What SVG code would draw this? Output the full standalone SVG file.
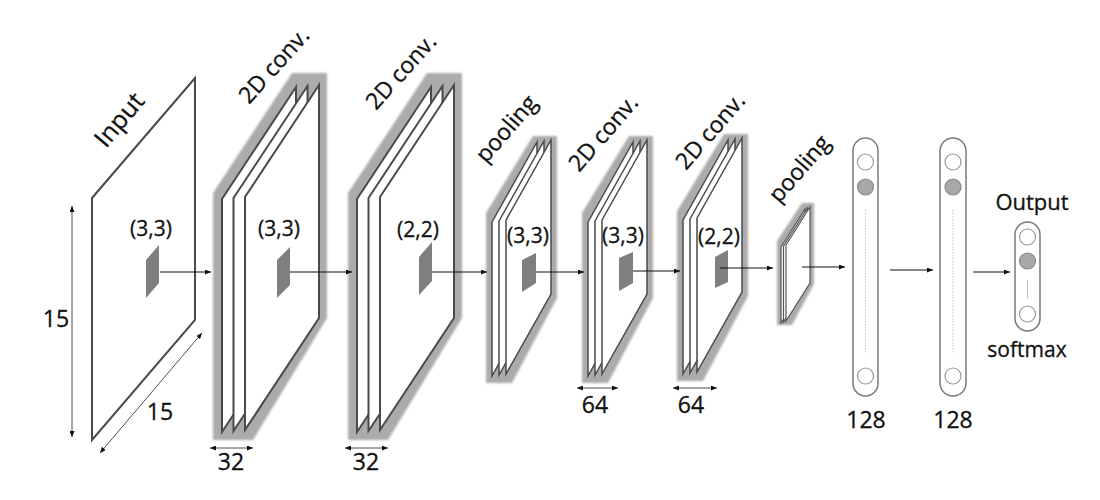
<svg xmlns="http://www.w3.org/2000/svg" width="1100" height="500" viewBox="0 0 1100 500">
<defs>
<marker id="ah" markerWidth="6" markerHeight="5" refX="6" refY="2.5" orient="auto" markerUnits="userSpaceOnUse"><path d="M0,0 L6,2.5 L0,5 Z" fill="#111"/></marker>
<marker id="ahs" markerWidth="6" markerHeight="5" refX="0" refY="2.5" orient="auto" markerUnits="userSpaceOnUse"><path d="M6,0 L0,2.5 L6,5 Z" fill="#111"/></marker>
<filter id="blur" x="-10%" y="-10%" width="120%" height="120%"><feGaussianBlur stdDeviation="1.3"/></filter>
</defs>
<style>
.t{font-family:"Open Sans","Noto Sans",sans-serif;fill:#111;stroke:#111;stroke-width:0.3}
.lab{font-size:23px}
.k{font-size:21px;text-anchor:middle}
.num{font-size:23px;text-anchor:middle}
.fr{fill:#fff;stroke:#4a4a4a;stroke-width:2;stroke-linejoin:miter}
.frs{fill:#fff;stroke:#4a4a4a;stroke-width:1.5}
.frt{fill:#fff;stroke:#555;stroke-width:1.2}
.sh{fill:#ababab;filter:url(#blur)}
.pt{fill:#7f7f7f}
.ar{stroke:#111;stroke-width:1;fill:none;marker-end:url(#ah)}
.dim{stroke:#222;stroke-width:0.8;fill:none;marker-end:url(#ah);marker-start:url(#ahs)}
.fc{fill:#fff;stroke:#7a7a7a;stroke-width:1.5}
.cw{fill:#fff;stroke:#9a9a9a;stroke-width:1.2}
.cg{fill:#a8a8a8;stroke:#8a8a8a;stroke-width:1.2}
.dl{stroke:#c4c4c4;stroke-width:1;stroke-dasharray:1.5 1.5}
</style>

<g id="input">
<polygon class="fr" points="92,198 195,78 195,320 92,440"/>
<polygon class="pt" points="146,260 159,245 159,283 146,298"/>
<text class="t k" x="151" y="236">(3,3)</text>
<text class="t" font-size="25" x="106" y="149" transform="rotate(-50 106 149)">Input</text>
</g>

<g id="conv1">
<polygon class="sh" points="213,193 292,73 327,73 327,318 253,440 213,440"/>
<polygon class="fr" points="222,199 296,87 296,320 222,432"/>
<polygon class="fr" points="233.5,198 307.5,86 307.5,319 233.5,431"/>
<polygon class="fr" points="245,197 319,85 319,318 245,430"/>
<polygon class="pt" points="277,260 290,247 290,285 277,298"/>
<text class="t k" x="279" y="236">(3,3)</text>
<text class="t lab" x="249" y="105" transform="rotate(-48 249 105)">2D conv.</text>
</g>

<g id="conv2">
<g transform="translate(135,0)">
<polygon class="sh" points="213,193 292,73 327,73 327,318 253,440 213,440"/>
<polygon class="fr" points="222,199 296,87 296,320 222,432"/>
<polygon class="fr" points="233.5,198 307.5,86 307.5,319 233.5,431"/>
<polygon class="fr" points="245,197 319,85 319,318 245,430"/>
</g>
<polygon class="pt" points="419,257 432,242 432,281 419,295"/>
<text class="t k" x="418" y="237">(2,2)</text>
<text class="t lab" x="376" y="111" transform="rotate(-48 376 111)">2D conv.</text>
</g>

<g id="pool1">
<polygon class="sh" points="486,213 533,136 557,136 557,298 512,383 486,383"/>
<polygon class="frs" points="492,222 537,142 537,296 492,376"/>
<polygon class="frs" points="499,221 544,141 544,295 499,375"/>
<polygon class="frs" points="506,220 551,140 551,294 506,374"/>
<polygon class="pt" points="522,260 536,253 536,283 522,292"/>
<text class="t k" x="528" y="243">(3,3)</text>
<text class="t lab" x="486" y="164" transform="rotate(-49 486 164)">pooling</text>
</g>

<g id="conv3">
<g transform="translate(96,0)">
<polygon class="sh" points="486,213 533,136 557,136 557,298 512,383 486,383"/>
<polygon class="frs" points="492,222 537,142 537,296 492,376"/>
<polygon class="frs" points="499,221 544,141 544,295 499,375"/>
<polygon class="frs" points="506,220 551,140 551,294 506,374"/>
</g>
<polygon class="pt" points="619,258 633,252 633,283 619,291"/>
<text class="t k" x="623" y="243">(3,3)</text>
<text class="t lab" x="579" y="173" transform="rotate(-49 579 173)">2D conv.</text>
</g>

<g id="conv4">
<g transform="translate(191,-2)">
<polygon class="sh" points="486,213 533,136 557,136 557,298 512,383 486,383"/>
<polygon class="frs" points="492,222 537,142 537,296 492,376"/>
<polygon class="frs" points="499,221 544,141 544,295 499,375"/>
<polygon class="frs" points="506,220 551,140 551,294 506,374"/>
</g>
<polygon class="pt" points="715,257 728,250 728,282 715,288"/>
<text class="t k" x="719" y="244">(2,2)</text>
<text class="t lab" x="686" y="171" transform="rotate(-49 686 171)">2D conv.</text>
</g>

<g id="pool2">
<polygon class="sh" points="777,241 802,203 814,203 814,284 792,325 777,325"/>
<polygon class="frt" points="781,247 805,209 805,285 781,323"/>
<polygon class="frt" points="783.5,246 807.5,208 807.5,284 783.5,322"/>
<polygon class="frt" points="786,245 810,207 810,283 786,321"/>
<text class="t lab" x="779" y="204" transform="rotate(-49 779 204)">pooling</text>
</g>

<g id="fc1">
<rect class="fc" x="853" y="138" width="25" height="258" rx="12.5"/>
<circle class="cw" cx="865.5" cy="162" r="8"/>
<circle class="cg" cx="865.5" cy="187" r="8"/>
<line class="dl" x1="865.5" y1="210" x2="865.5" y2="353"/>
<circle class="cw" cx="865.5" cy="376" r="8"/>
<text class="t num" x="866" y="428">128</text>
</g>

<g id="fc2">
<rect class="fc" x="940" y="138" width="26" height="258" rx="13"/>
<circle class="cw" cx="953" cy="162" r="8"/>
<circle class="cg" cx="953" cy="187" r="8"/>
<line class="dl" x1="953" y1="210" x2="953" y2="353"/>
<circle class="cw" cx="953" cy="376" r="8"/>
<text class="t num" x="953" y="428">128</text>
</g>

<g id="output">
<rect class="fc" x="1015" y="222" width="25" height="109" rx="12.5"/>
<circle class="cw" cx="1027.5" cy="237" r="8"/>
<circle class="cg" cx="1027.5" cy="261" r="8"/>
<line x1="1027.5" y1="280" x2="1027.5" y2="298" stroke="#bbb" stroke-width="1"/>
<circle class="cw" cx="1027.5" cy="314" r="8"/>
<text class="t" font-size="22" text-anchor="middle" x="1032" y="210">Output</text>
<text class="t" font-size="21" text-anchor="middle" x="1027" y="357">softmax</text>
</g>

<g id="dimensions">
<line class="dim" x1="72" y1="206" x2="72" y2="437"/>
<text class="t num" x="56" y="327">15</text>
<line class="dim" x1="100" y1="453" x2="202" y2="333"/>
<text class="t num" x="160" y="420">15</text>
<line class="dim" x1="210" y1="448" x2="253" y2="448"/>
<text class="t num" x="231" y="470">32</text>
<line class="dim" x1="345" y1="448" x2="388" y2="448"/>
<text class="t num" x="366" y="470">32</text>
<line class="dim" x1="577" y1="388" x2="618" y2="388"/>
<text class="t num" x="595" y="413">64</text>
<line class="dim" x1="673" y1="388" x2="717" y2="388"/>
<text class="t num" x="691" y="413">64</text>
</g>

<g id="connectors">
<line class="ar" x1="160" y1="272" x2="211" y2="272"/>
<line class="ar" x1="290" y1="272" x2="352" y2="272"/>
<line class="ar" x1="432" y1="272" x2="487" y2="272"/>
<line class="ar" x1="536" y1="272" x2="584" y2="272"/>
<line class="ar" x1="633" y1="271" x2="680" y2="271"/>
<line class="ar" x1="720" y1="268" x2="773" y2="268"/>
<line class="ar" x1="802" y1="267" x2="845" y2="267"/>
<line class="ar" x1="890" y1="270" x2="933" y2="270"/>
<line class="ar" x1="973" y1="272" x2="1010" y2="272"/>
</g>
</svg>
